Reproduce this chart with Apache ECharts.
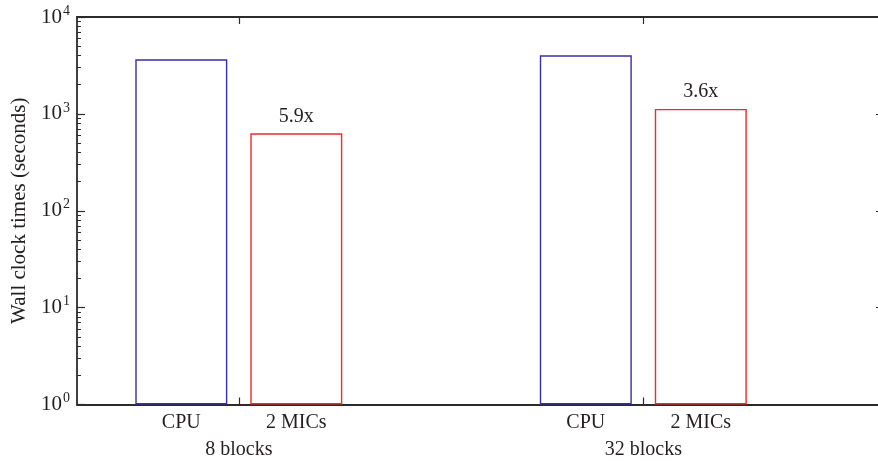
<!DOCTYPE html>
<html><head><meta charset="utf-8">
<script src="https://cdn.jsdelivr.net/npm/echarts@6/dist/echarts.min.js"></script>
<style>html,body{margin:0;padding:0;background:#fff}#c{width:878px;height:461px}</style>
</head><body><div id="c"></div>
<script>
// ---- data ----
const groups = ['8 blocks', '32 blocks'];
const groupPos = [1, 2];
const seriesNames = ['CPU', '2 MICs'];
const cpuTimes = [3660, 4030];
const micTimes = [630, 1125];
const speedupLabels = ['5.9x', '3.6x'];
const yTicks = [1, 10, 100, 1000, 10000];
const yExponents = ['0', '1', '2', '3', '4'];
const yMinor = [2,3,4,5,6,7,8,9,20,30,40,50,60,70,80,90,200,300,400,500,600,700,800,900,2000,3000,4000,5000,6000,7000,8000,9000];

// ---- layout ----
const gridLeft = 77, gridTop = 17, gridBottom = 56.5, gridWidth = 809;
const xMin = 0.6, xMax = 2.6;
const barW = 92, barGapPx = 23;
const unitPx = gridWidth / (xMax - xMin);
const off = (barW + barGapPx) / 2 / unitPx;
const subPos = [];
const subNames = [];
groupPos.forEach(g => { subPos.push(g - off, g + off); subNames.push(seriesNames[0], seriesNames[1]); });

const font = 'Liberation Serif';
const txt = '#231f20';
const axisCol = '#2b2b2b';

const chart = echarts.init(document.getElementById('c'), null, {renderer: 'canvas'});
const axisLine = {show: true, lineStyle: {color: axisCol, width: 1.8}};
const xBase = {type: 'value', min: xMin, max: xMax, splitLine: {show: false}};
const yBase = {type: 'log', logBase: 10, min: 1, max: 10000, splitLine: {show: false}, minorTick: {show: false}, minorSplitLine: {show: false}};

chart.setOption({
  animation: false,
  backgroundColor: '#fff',
  grid: {left: gridLeft, top: gridTop, bottom: gridBottom, width: gridWidth, containLabel: false, outerBoundsMode: 'none'},
  xAxis: [
    Object.assign({}, xBase, {position: 'bottom', axisLine: axisLine,
      axisTick: {show: true, inside: true, length: 7, customValues: groupPos, lineStyle: {color: axisCol, width: 1.2}},
      axisLabel: {show: true, customValues: groupPos, margin: 35, fontFamily: font, fontSize: 20, color: txt,
        formatter: v => groups[groupPos.indexOf(Math.round(v))] || ''}}),
    Object.assign({}, xBase, {position: 'bottom', axisLine: {show: false}, axisTick: {show: false},
      axisLabel: {show: true, customValues: subPos, margin: 8, fontFamily: font, fontSize: 20, color: txt,
        formatter: v => { let i = subPos.findIndex(p => Math.abs(p - v) < 1e-6); return i >= 0 ? subNames[i] : ''; }}}),
    Object.assign({}, xBase, {position: 'top', axisLine: axisLine,
      axisTick: {show: true, inside: true, length: 7, customValues: groupPos, lineStyle: {color: axisCol, width: 1.2}},
      axisLabel: {show: false}})
  ],
  yAxis: [
    Object.assign({}, yBase, {position: 'left', axisLine: axisLine,
      name: 'Wall clock times (seconds)', nameLocation: 'middle', nameGap: 44, nameRotate: 90,
      nameTextStyle: {fontFamily: font, fontSize: 21, color: txt},
      axisTick: {show: true, inside: true, length: 8, customValues: yTicks, lineStyle: {color: axisCol, width: 1.2}},
      axisLabel: {show: true, customValues: yTicks, margin: 7, fontFamily: font, fontSize: 21, color: txt,
        formatter: v => { const i = yTicks.findIndex(t => Math.abs(t - v) / t < 1e-6); return '10{s|' + yExponents[i] + '}'; },
        rich: {s: {fontFamily: font, fontSize: 14, color: txt, verticalAlign: 'bottom', padding: [0, 0, 12, 1]}}}}),
    Object.assign({}, yBase, {position: 'left', axisLine: {show: false},
      axisTick: {show: true, inside: true, length: 4, customValues: yMinor, lineStyle: {color: axisCol, width: 1}},
      axisLabel: {show: false}}),
    Object.assign({}, yBase, {position: 'right', axisLine: axisLine,
      axisTick: {show: true, inside: true, length: 10, customValues: yTicks, lineStyle: {color: axisCol, width: 1.2}},
      axisLabel: {show: false}})
  ],
  series: [
    {type: 'bar', name: seriesNames[0], xAxisIndex: 0, yAxisIndex: 0, barWidth: barW, barGap: (barGapPx / barW * 100) + '%',
      data: groupPos.map((g, i) => [g, cpuTimes[i]]),
      itemStyle: {color: 'rgba(0,0,0,0)', borderColor: '#3a2ea8', borderWidth: 1.4},
      label: {show: false}},
    {type: 'bar', name: seriesNames[1], xAxisIndex: 0, yAxisIndex: 0, barWidth: barW,
      data: groupPos.map((g, i) => [g, micTimes[i]]),
      itemStyle: {color: 'rgba(0,0,0,0)', borderColor: '#ee2a2a', borderWidth: 1.4},
      label: {show: true, position: 'top', distance: 7, fontFamily: font, fontSize: 20, color: txt,
        formatter: p => speedupLabels[p.dataIndex]}}
  ]
});
</script></body></html>
